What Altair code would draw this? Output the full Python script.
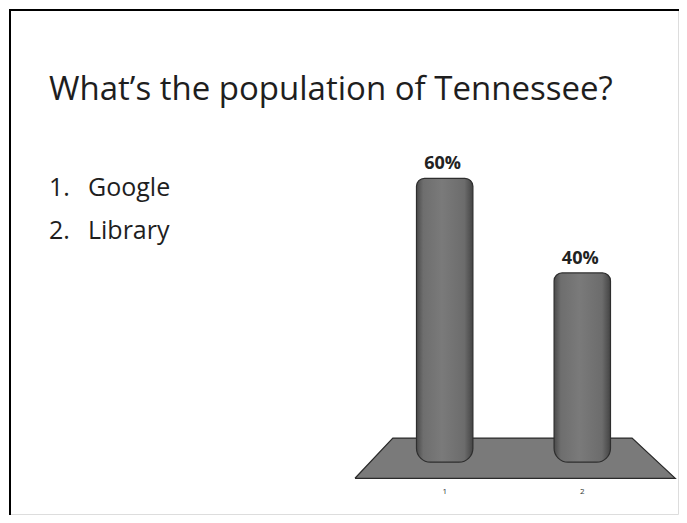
import altair as alt
import pandas as pd

# ---- data ----
categories = [1, 2]
percents = [60, 40]
pct_labels = ["60%", "40%"]
tick_labels = ["1", "2"]
title_text = ["What\u2019s the population of Tennessee?"]
option_numbers = ["1.", "2."]
option_names = ["Google", "Library"]

# floor (decorative platform) in data units
floor_x = [0.348, 0.623, 2.362, 2.676]
floor_top = [-3.4, 5.1, 5.1, -3.4]
floor_bottom = [-3.4, -3.4, -3.4, -3.4]

W, H = 671, 507
FONT = "Open Sans"

bars = pd.DataFrame({
    "cat": categories,
    "pct": percents,
    "label": pct_labels,
    "tick": tick_labels,
})
bars["x0"] = bars["cat"] - 0.205
bars["x1"] = bars["cat"] + 0.205
bars["base"] = 0

floor_df = pd.DataFrame({"x": floor_x, "yt": floor_top, "yb": floor_bottom})
outline_df = pd.DataFrame({
    "x": floor_x + floor_x[:1],
    "y": floor_top + floor_top[:1],
    "o": [0, 1, 2, 3, 4],
})

xs = alt.Scale(domain=[-2.1667, 2.6957], nice=False, zero=False)
ys = alt.Scale(domain=[-10.95, 95.79], nice=False, zero=False)

X = lambda f: alt.X(f, type="quantitative", scale=xs, axis=None)
Y = lambda f: alt.Y(f, type="quantitative", scale=ys, axis=None)

floor = alt.Chart(floor_df).mark_area(color="#7a7a7a", opacity=1).encode(
    x=X("x"), y=Y("yt"), y2="yb"
)
floor_line = alt.Chart(outline_df).mark_line(color="#2a2a2a", strokeWidth=1.2).encode(
    x=X("x"), y=Y("y"), order="o:Q"
)

grad = alt.Gradient(
    gradient="linear",
    stops=[
        alt.GradientStop(color="#4a4a4a", offset=0),
        alt.GradientStop(color="#6e6e6e", offset=0.12),
        alt.GradientStop(color="#7a7a7a", offset=0.45),
        alt.GradientStop(color="#6c6c6c", offset=0.85),
        alt.GradientStop(color="#444444", offset=1),
    ],
    x1=0, x2=1, y1=0, y2=0,
)

bar = alt.Chart(bars).mark_bar(
    fill=grad, stroke="#2e2e2e", strokeWidth=1.2,
    cornerRadiusTopLeft=8, cornerRadiusTopRight=8,
    cornerRadiusBottomLeft=14, cornerRadiusBottomRight=14,
).encode(x=X("x0"), x2="x1", y=Y("pct"), y2="base")

pct_text = alt.Chart(bars).mark_text(
    font=FONT, fontSize=18, fontWeight="bold", color="#222222",
    baseline="alphabetic", dy=-9, dx=-2,
).encode(x=X("cat"), y=Y("pct"), text="label:N")

tick_text = alt.Chart(bars).mark_text(
    font=FONT, fontSize=8, color="#333333"
).encode(x=X("cat"), y=Y("base"), text="tick:N", yOffset=alt.value(30))

title = alt.Chart(pd.DataFrame({"t": title_text})).mark_text(
    font=FONT, fontSize=33, color="#1e1e1e", align="left", baseline="alphabetic"
).encode(x=alt.value(40), y=alt.value(91), text="t:N")

opt_df = pd.DataFrame({"n": option_numbers, "name": option_names, "i": [0, 1]})
opt_y = alt.Y("i:Q", scale=alt.Scale(domain=[0, 1], range=[187, 230]), axis=None)

opt_num = alt.Chart(opt_df).mark_text(
    font=FONT, fontSize=25, color="#1e1e1e", align="left", baseline="alphabetic"
).encode(x=alt.value(40), y=opt_y, text="n:N")
opt_name = alt.Chart(opt_df).mark_text(
    font=FONT, fontSize=25, color="#1e1e1e", align="left", baseline="alphabetic"
).encode(x=alt.value(79), y=opt_y, text="name:N")

border_top = alt.Chart(pd.DataFrame({"a": [0]})).mark_rule(color="#000000", strokeWidth=2).encode(
    x=alt.value(0), x2=alt.value(W), y=alt.value(1)
)
border_left = alt.Chart(pd.DataFrame({"a": [0]})).mark_rule(color="#000000", strokeWidth=2).encode(
    x=alt.value(1), y=alt.value(0), y2=alt.value(H)
)

chart = alt.layer(
    floor, floor_line, bar, pct_text, tick_text, title, opt_num, opt_name,
    border_top, border_left
).resolve_scale(y="independent").properties(
    width=W, height=H, padding=0,
    autosize=alt.AutoSizeParams(type="fit", contains="padding"),
).configure_view(stroke=None).configure(background="white")

chart.save("out.html", embed_options={"renderer": "svg", "actions": False})
